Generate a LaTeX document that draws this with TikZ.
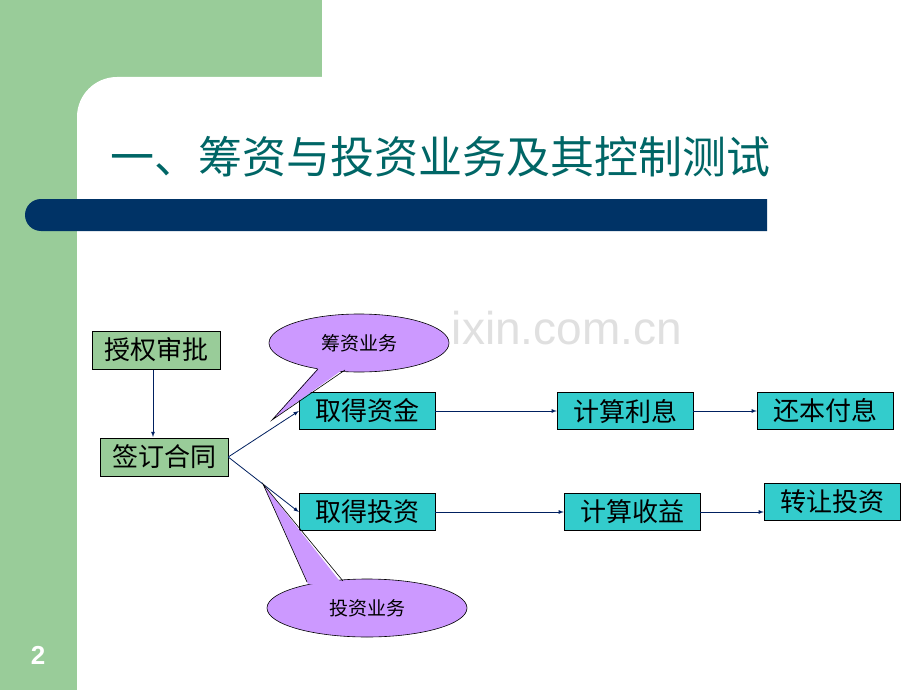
\documentclass[tikz,border=0pt]{standalone}
\usepackage{fontspec}
\setmainfont{Noto Sans CJK SC}
\setsansfont{Liberation Sans}
\usetikzlibrary{shapes.geometric}
\definecolor{bandgreen}{RGB}{153,204,153}
\definecolor{titleteal}{RGB}{0,102,102}
\definecolor{barblue}{RGB}{0,51,102}
\definecolor{boxcyan}{RGB}{51,204,204}
\definecolor{callpurple}{RGB}{204,153,255}
\definecolor{arrownavy}{RGB}{0,32,96}
\tikzset{
  stepg/.style={draw=black,fill=bandgreen,minimum width=128pt,minimum height=38pt,inner sep=0pt,font=\fontsize{26pt}{28pt}\selectfont},
  stepc/.style={draw=black,fill=boxcyan,minimum width=136pt,minimum height=37pt,inner sep=0pt,font=\fontsize{26pt}{28pt}\selectfont},
  flow/.style={-latex,draw=arrownavy,line width=0.8pt},
  callout/.style={draw=black,fill=callpurple,line width=0.6pt}
}
\begin{document}
\begin{tikzpicture}[x=1pt,y=-1pt]
    \useasboundingbox (0,0) rectangle (920,690);
    % background and title band
    \fill[bandgreen] (0,0) rectangle (322,120);
    \fill[bandgreen] (0,0) rectangle (77,690);
    \fill[white] (77,690) -- (77,117) arc[start angle=180,end angle=90,radius=40pt] -- (322,77) -- (322,120) -- (920,120) -- (920,690) -- cycle;
    \node(title) at (440,157) {\fontsize{44pt}{46pt}\selectfont\color{titleteal}一、筹资与投资业务及其控制测试};
    \fill[barblue] (41,199) arc[start angle=90,end angle=270,radius=16pt] -- (767,231) -- (767,199) -- cycle;
    \node(page) at (38,655) {\fontsize{26pt}{28pt}\selectfont\bfseries\sffamily\color{white}2};
    \node(mark) at (567,328) {\fontsize{46pt}{48pt}\selectfont\sffamily\color{black!12}ixin.com.cn};
    % boxes
    \node[stepg](auth) at (156,350) {授权审批};
    \node[stepg](sign) at (164,457) {签订合同};
    \node[stepc](getfund) at (367,411) {取得资金};
    \node[stepc](interest) at (625,411) {计算利息};
    \node[stepc](repay) at (825,411) {还本付息};
    \node[stepc](getinv) at (367,512) {取得投资};
    \node[stepc](income) at (632,512) {计算收益};
    \node[stepc](transfer) at (832,502) {转让投资};
    % connectors
    \draw[flow] (153,370) -- (153,437);
    \draw[flow] (sign.east) -- (getfund.west);
    \draw[flow] (sign.east) -- (getinv.west);
    \draw[flow] (getfund) -- (interest);
    \draw[flow] (interest) -- (repay);
    \draw[flow] (getinv) -- (income);
    \draw[flow] (income.east) -- (transfer.west |- income.east);
    % callouts
    \coordinate(tip1) at (272,420);
    \coordinate(tip2) at (263,484);
    \node[callout,ellipse,minimum width=180pt,minimum height=58pt](fund) at (359,343) {};
    \fill[callpurple] (tip1) -- (318,368) -- (345,368) -- cycle;
    \draw[line width=0.6pt] (318,369) -- (tip1) -- (345,370);
    \node[callout,ellipse,minimum width=200pt,minimum height=58pt](inv) at (367,608) {};
    \fill[callpurple] (tip2) -- (308,584) -- (342,584) -- cycle;
    \draw[line width=0.6pt] (307,582) -- (tip2) -- (343,581);
    \node at (fund) {\fontsize{19pt}{21pt}\selectfont 筹资业务};
    \node at (inv) {\fontsize{19pt}{21pt}\selectfont 投资业务};
\end{tikzpicture}
\end{document}
